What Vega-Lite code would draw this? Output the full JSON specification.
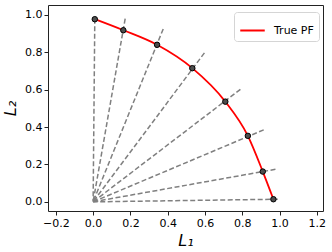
{
  "$schema": "https://vega.github.io/schema/vega-lite/v6.json",
  "width": 275,
  "height": 206,
  "autosize": {"type": "none"},
  "padding": {"left": 48, "top": 5, "right": 9, "bottom": 41},
  "config": {
    "view": {"stroke": "#222", "strokeWidth": 1},
    "font": "DejaVu Sans",
    "axis": {
      "grid": false,
      "domain": false,
      "tickColor": "#222",
      "tickSize": 4,
      "tickWidth": 1,
      "labelFont": "DejaVu Sans",
      "labelFontSize": 11,
      "labelColor": "#000",
      "labelPadding": 2,
      "titleFont": "DejaVu Sans",
      "titleFontSize": 16,
      "titleFontWeight": "normal",
      "titleFontStyle": "italic",
      "titleColor": "#000"
    },
    "axisX": {"labelOverlap": false, "labelFlush": false, "labelBound": false},
    "axisY": {"labelOverlap": false, "labelFlush": false, "labelBound": false}
  },
  "data": {
    "values": [
      {"L1": 0.009, "L2": 0.977, "rx": 0.009, "ry": 0.980},
      {"L1": 0.162, "L2": 0.918, "rx": 0.172, "ry": 0.980},
      {"L1": 0.343, "L2": 0.840, "rx": 0.376, "ry": 0.925},
      {"L1": 0.532, "L2": 0.715, "rx": 0.597, "ry": 0.797},
      {"L1": 0.709, "L2": 0.536, "rx": 0.790, "ry": 0.602},
      {"L1": 0.830, "L2": 0.353, "rx": 0.915, "ry": 0.385},
      {"L1": 0.910, "L2": 0.162, "rx": 0.978, "ry": 0.174},
      {"L1": 0.967, "L2": 0.014, "rx": 0.990, "ry": 0.014}
    ]
  },
  "layer": [
    {
      "mark": {"type": "rule", "color": "#808080", "strokeWidth": 1.5, "strokeDash": [5, 2.5]},
      "encoding": {
        "x": {"field": "rx", "type": "quantitative", "scale": {"domain": [-0.242, 1.233], "nice": false, "zero": false},
          "axis": {"values": [-0.2, 0, 0.2, 0.4, 0.6, 0.8, 1.0, 1.2], "format": ".1f", "title": "L₁", "titlePadding": 4,
            "labelOverlap": false, "labelFlush": false, "labelBound": false}},
        "y": {"field": "ry", "type": "quantitative", "scale": {"domain": [-0.049, 1.053], "nice": false, "zero": false},
          "axis": {"values": [0, 0.2, 0.4, 0.6, 0.8, 1.0], "format": ".1f", "title": "L₂", "titlePadding": 6,
            "labelOverlap": false, "labelFlush": false, "labelBound": false}},
        "x2": {"datum": 0},
        "y2": {"datum": 0}
      }
    },
    {
      "mark": {"type": "line", "strokeWidth": 1.8, "interpolate": "monotone"},
      "encoding": {
        "x": {"field": "L1", "type": "quantitative", "axis": {"values": [-0.2, 0, 0.2, 0.4, 0.6, 0.8, 1.0, 1.2], "format": ".1f", "title": "L₁", "titlePadding": 4, "labelOverlap": false}},
        "y": {"field": "L2", "type": "quantitative", "axis": {"values": [0, 0.2, 0.4, 0.6, 0.8, 1.0], "format": ".1f", "title": "L₂", "titlePadding": 6, "labelOverlap": false}},
        "order": {"field": "L1", "type": "quantitative"},
        "color": {
          "datum": "True PF",
          "type": "nominal",
          "scale": {"range": ["#ff0000"]},
          "legend": {
            "title": null,
            "orient": "none",
            "legendX": 186,
            "legendY": 7,
            "symbolType": "stroke",
            "symbolSize": 600,
            "symbolStrokeWidth": 2,
            "labelFontSize": 11,
            "labelFont": "DejaVu Sans",
            "labelColor": "#000",
            "padding": 5,
            "fillColor": "#ffffff",
            "strokeColor": "#d5d5d5",
            "cornerRadius": 3,
            "labelOffset": 8
          }
        }
      }
    },
    {
      "mark": {"type": "circle", "size": 30, "fill": "#4d4d4d", "stroke": "#000000", "strokeWidth": 1, "opacity": 1},
      "encoding": {
        "x": {"field": "L1", "type": "quantitative", "axis": {"values": [-0.2, 0, 0.2, 0.4, 0.6, 0.8, 1.0, 1.2], "format": ".1f", "title": "L₁", "titlePadding": 4, "labelOverlap": false}},
        "y": {"field": "L2", "type": "quantitative", "axis": {"values": [0, 0.2, 0.4, 0.6, 0.8, 1.0], "format": ".1f", "title": "L₂", "titlePadding": 6, "labelOverlap": false}}
      }
    }
  ]
}
